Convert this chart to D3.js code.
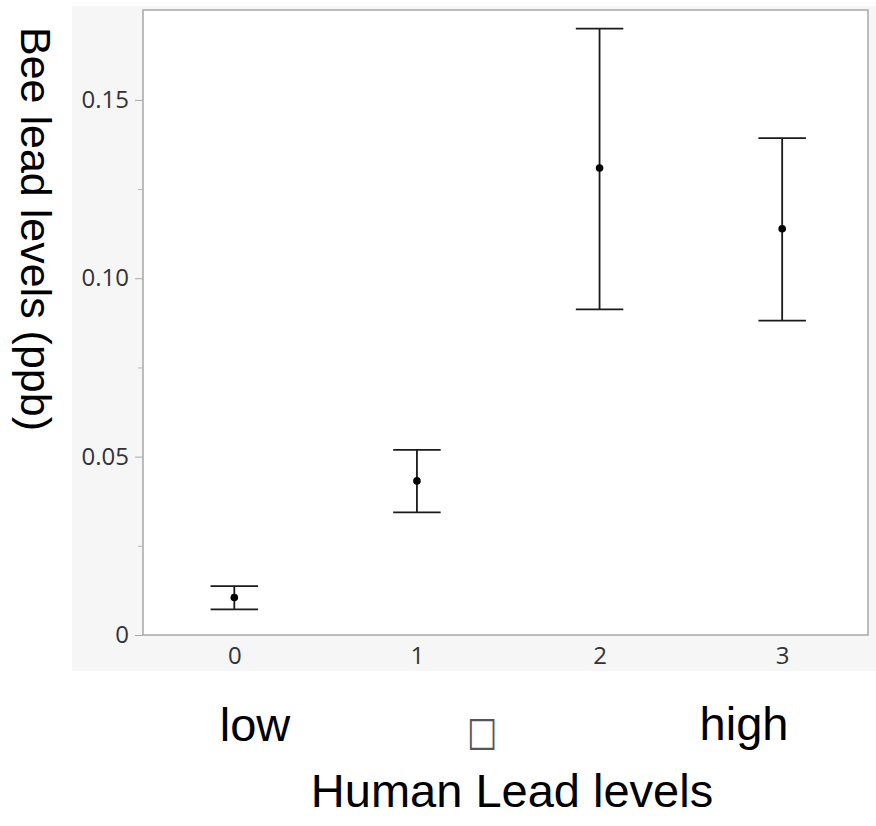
<!DOCTYPE html>
<html>
<head>
<meta charset="utf-8">
<script src="https://cdn.jsdelivr.net/npm/d3@7"></script>
<style>
  body { margin: 0; background: #fff; }
</style>
</head>
<body>
<div id="chart"></div>
<script>
// values
const categories = [0, 1, 2, 3]
const means = [0.0105, 0.0432, 0.1309, 0.1139]
const upper = [0.0137, 0.0519, 0.1700, 0.1393]
const lower = [0.0072, 0.0344, 0.0913, 0.0881]
const yTicks = [0, 0.05, 0.10, 0.15]
const yMinorTicks = [0.025, 0.075, 0.125]
const yTickLabels = ['0', '0.05', '0.10', '0.15']

const W = 876
const H = 826
const plot = {left: 143, right: 868, top: 10, bottom: 635}

const svg = d3.select('#chart')
  .append('svg')
  .attr('width', W)
  .attr('height', H)

// gray panel behind the frame
svg.append('rect')
  .attr('x', 72).attr('y', 6)
  .attr('width', W - 72).attr('height', 665)
  .attr('fill', '#f6f6f6')

svg.append('rect')
  .attr('x', plot.left).attr('y', plot.top)
  .attr('width', plot.right - plot.left)
  .attr('height', plot.bottom - plot.top)
  .attr('fill', '#fff')
  .attr('stroke', '#a8a8a8')
  .attr('stroke-width', 1.5)

const x = d3.scaleLinear()
  .domain([-0.5, 3.47])
  .range([plot.left, plot.right])

const y = d3.scaleLinear()
  .domain([0, 0.1752])
  .range([plot.bottom, plot.top])

// y axis
const yAxis = svg.append('g')
  .attr('transform', `translate(${plot.left},0)`)
  .call(d3.axisLeft(y).tickValues(yTicks)
    .tickFormat((d, i) => yTickLabels[i]).tickSize(8).tickPadding(6))
yAxis.select('.domain').remove()
yAxis.selectAll('line').attr('stroke', '#a8a8a8')
yAxis.selectAll('text')
  .attr('font-family', '"Open Sans", "Noto Sans", sans-serif')
  .attr('font-size', 24)
  .attr('fill', '#333')

const yMinor = svg.append('g')
  .attr('transform', `translate(${plot.left},0)`)
  .call(d3.axisLeft(y).tickValues(yMinorTicks).tickSize(5).tickFormat(''))
yMinor.select('.domain').remove()
yMinor.selectAll('line').attr('stroke', '#b8b8b8')

// x axis (labels only)
const xAxis = svg.append('g')
  .attr('transform', `translate(0,${plot.bottom})`)
  .call(d3.axisBottom(x).tickValues(categories)
    .tickFormat(d3.format('d')).tickSize(0).tickPadding(12))
xAxis.select('.domain').remove()
xAxis.selectAll('text')
  .attr('font-family', '"Open Sans", "Noto Sans", sans-serif')
  .attr('font-size', 24)
  .attr('fill', '#333')

// error bars
const capHalf = 0.13
const bars = svg.append('g')
  .selectAll('g')
  .data(categories)
  .enter()
  .append('g')
  .attr('stroke', '#1a1a1a')
  .attr('stroke-width', 1.8)

bars.append('line')
  .attr('x1', d => x(d)).attr('x2', d => x(d))
  .attr('y1', (d, i) => y(upper[i])).attr('y2', (d, i) => y(lower[i]))
bars.append('line')
  .attr('x1', d => x(d - capHalf)).attr('x2', d => x(d + capHalf))
  .attr('y1', (d, i) => y(upper[i])).attr('y2', (d, i) => y(upper[i]))
bars.append('line')
  .attr('x1', d => x(d - capHalf)).attr('x2', d => x(d + capHalf))
  .attr('y1', (d, i) => y(lower[i])).attr('y2', (d, i) => y(lower[i]))
bars.append('circle')
  .attr('cx', d => x(d))
  .attr('cy', (d, i) => y(means[i]))
  .attr('r', 3.8)
  .attr('fill', '#000')
  .attr('stroke', 'none')

// titles
const big = '"Liberation Sans", Arial, sans-serif'

svg.append('text')
  .attr('transform', 'translate(21,27) rotate(90)')
  .attr('font-family', big)
  .attr('font-size', 43)
  .attr('fill', '#000')
  .text('Bee lead levels (ppb)')

svg.append('text')
  .attr('x', 255).attr('y', 741)
  .attr('text-anchor', 'middle')
  .attr('font-family', big).attr('font-size', 47)
  .text('low')

// missing-glyph box between the two words
svg.append('text')
  .attr('transform', 'translate(482,745) scale(0.8,1)')
  .attr('text-anchor', 'middle')
  .attr('font-family', '"DejaVu Sans", sans-serif').attr('font-size', 40)
  .attr('fill', '#555')
  .text('□')

svg.append('text')
  .attr('x', 744).attr('y', 740)
  .attr('text-anchor', 'middle')
  .attr('font-family', big).attr('font-size', 47)
  .text('high')

svg.append('text')
  .attr('x', 512).attr('y', 807)
  .attr('text-anchor', 'middle')
  .attr('font-family', big).attr('font-size', 47)
  .text('Human Lead levels')
</script>
</body>
</html>
